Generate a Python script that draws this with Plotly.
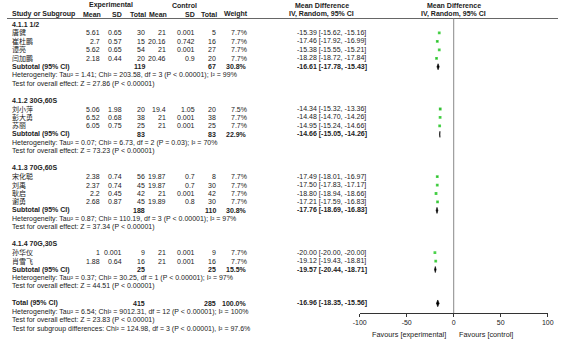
import plotly.graph_objects as go

# ---------------- data ----------------
group_titles = ["4.1.1 1/2", "4.1.2 30G,60S", "4.1.3 70G,60S", "4.1.4 70G,30S"]
study_names = [
    ["唐健", "崔杜鹏", "谭亮", "闫加鹏"],
    ["刘小萍", "彭大勇", "苏丽"],
    ["宋化聪", "刘禹", "耿启", "谢勇"],
    ["孙华仪", "肖雪飞"],
]
exp_mean = [[5.61, 2.7, 5.62, 2.18], [5.06, 6.52, 6.05], [2.38, 2.37, 2.2, 2.68], [1, 1.88]]
exp_sd = [[0.65, 0.57, 0.65, 0.44], [1.98, 0.68, 0.75], [0.74, 0.74, 0.45, 0.87], [0.001, 0.64]]
exp_n = [[30, 15, 54, 20], [20, 38, 25], [56, 45, 42, 45], [9, 16]]
ctl_mean = [[21, 20.16, 21, 20.46], [19.4, 21, 21], [19.87, 19.87, 21, 19.89], [21, 21]]
ctl_sd = [[0.001, 0.742, 0.001, 0.9], [1.05, 0.001, 0.001], [0.7, 0.7, 0.001, 0.8], [0.001, 0.001]]
ctl_n = [[5, 16, 27, 20], [20, 38, 25], [8, 30, 42, 30], [9, 16]]
weights = [[7.7, 7.7, 7.7, 7.7], [7.5, 7.7, 7.7], [7.7, 7.7, 7.7, 7.7], [7.7, 7.7]]
md = [[-15.39, -17.46, -15.38, -18.28], [-14.34, -14.48, -14.95], [-17.49, -17.50, -18.80, -17.21], [-20.00, -19.12]]
md_lo = [[-15.62, -17.92, -15.55, -18.72], [-15.32, -14.70, -15.24], [-18.01, -17.83, -18.94, -17.59], [-20.00, -19.43]]
md_hi = [[-15.16, -16.99, -15.21, -17.84], [-13.36, -14.26, -14.66], [-16.97, -17.17, -18.66, -16.83], [-20.00, -18.81]]

sub_exp_n = [119, 83, 188, 25]
sub_ctl_n = [67, 83, 110, 25]
sub_weight = [30.8, 22.9, 30.8, 15.5]
sub_md = [-16.61, -14.66, -17.76, -19.57]
sub_lo = [-17.78, -15.05, -18.69, -20.44]
sub_hi = [-15.43, -14.26, -16.83, -18.71]
sub_het = [
    "Heterogeneity: Tau² = 1.41; Chi² = 203.58, df = 3 (P < 0.00001); I² = 99%",
    "Heterogeneity: Tau² = 0.07; Chi² = 6.73, df = 2 (P = 0.03); I² = 70%",
    "Heterogeneity: Tau² = 0.87; Chi² = 110.19, df = 3 (P < 0.00001); I² = 97%",
    "Heterogeneity: Tau² = 0.37; Chi² = 30.25, df = 1 (P < 0.00001); I² = 97%",
]
sub_z = [
    "Test for overall effect: Z = 27.86 (P < 0.00001)",
    "Test for overall effect: Z = 73.23 (P < 0.00001)",
    "Test for overall effect: Z = 37.34 (P < 0.00001)",
    "Test for overall effect: Z = 44.51 (P < 0.00001)",
]
total_exp_n = 415
total_ctl_n = 285
total_weight = 100.0
total_md = -16.96
total_lo = -18.35
total_hi = -15.56
total_lines = [
    "Heterogeneity: Tau² = 6.54; Chi² = 9012.31, df = 12 (P < 0.00001); I² = 100%",
    "Test for overall effect: Z = 23.83 (P < 0.00001)",
    "Test for subgroup differences: Chi² = 124.98, df = 3 (P < 0.00001), I² = 97.6%",
]
x_ticks = [-100, -50, 0, 50, 100]
x_tick_labels = ["-100", "-50", "0", "50", "100"]

# ---------------- layout constants ----------------
W, H = 564, 343
ROW0, PITCH = 24.5, 8.45          # pixel y of row 0, row pitch
FONT = "Liberation Sans, Arial, Noto Sans CJK SC, sans-serif"
FS = 7
TXT = "#222222"
GREEN = "#00c000"
PLOT_L, PLOT_R = 361, 553.5
AXIS_Y = 313

def px(x):
    return x / W

def row_of_px(y):
    return (y - ROW0) / PITCH

def py(r):
    """paper y for a table row index"""
    return 1 - (ROW0 + PITCH * r) / H

def py_px(y):
    return 1 - y / H

# column right edges (px)
C_NAME = 3
C_EMEAN, C_ESD, C_EN = 97, 120, 143
C_CMEAN, C_CSD, C_CN = 165, 194, 216
C_W = 248
C_CI = 295

fig = go.Figure()
ann = []

def text(x, yp, s, anchor="left", bold=False, size=FS, xref="paper"):
    ann.append(dict(
        x=px(x) if xref == "paper" else x, y=yp, xref=xref, yref="paper",
        text=f"<b>{s}</b>" if bold else s, showarrow=False,
        xanchor=anchor, yanchor="middle",
        font=dict(family=FONT, size=size, color=TXT)))

def fmtn(v):
    return f"{v:g}"

# headers
hr1, hr2 = py_px(5.5), py_px(14)
text(106, hr1, "Experimental", "center", True)
text(182, hr1, "Control", "center", True)
text(C_CI + 27, hr1, "Mean Difference", "center", True)
text((PLOT_L + PLOT_R) / 2, hr1, "Mean Difference", "center", True)
text(C_NAME, hr2, "Study or Subgroup", "left", True)
text(C_EMEAN + 1, hr2, "Mean", "right", True)
text(C_ESD, hr2, "SD", "right", True)
text(C_EN + 1, hr2, "Total", "right", True)
text(C_CMEAN + 1, hr2, "Mean", "right", True)
text(C_CSD, hr2, "SD", "right", True)
text(C_CN + 1, hr2, "Total", "right", True)
text(C_W + 1, hr2, "Weight", "right", True)
text(C_CI + 27, hr2, "IV, Random, 95% CI", "center", True)
text((PLOT_L + PLOT_R) / 2, hr2, "IV, Random, 95% CI", "center", True)

sq_x, sq_y, sq_lo, sq_hi, sq_w = [], [], [], [], []
r = 0
for g in range(len(group_titles)):
    text(C_NAME, py(r), group_titles[g], "left", True)
    r += 1
    for i, nm in enumerate(study_names[g]):
        y = py(r)
        text(C_NAME, y, nm)
        text(C_EMEAN, y, fmtn(exp_mean[g][i]), "right")
        text(C_ESD, y, fmtn(exp_sd[g][i]), "right")
        text(C_EN, y, str(exp_n[g][i]), "right")
        text(C_CMEAN, y, fmtn(ctl_mean[g][i]), "right")
        text(C_CSD, y, fmtn(ctl_sd[g][i]), "right")
        text(C_CN, y, str(ctl_n[g][i]), "right")
        text(C_W, y, f"{weights[g][i]:.1f}%", "right")
        text(C_CI, y, f"{md[g][i]:.2f} [{md_lo[g][i]:.2f}, {md_hi[g][i]:.2f}]", "left")
        sq_x.append(md[g][i]); sq_y.append(r)
        sq_lo.append(md[g][i] - md_lo[g][i]); sq_hi.append(md_hi[g][i] - md[g][i])
        sq_w.append(weights[g][i])
        r += 1
    # subtotal
    y = py(r)
    text(C_NAME, y, "Subtotal (95% CI)", "left", True)
    text(C_EN, y, str(sub_exp_n[g]), "right", True)
    text(C_CN, y, str(sub_ctl_n[g]), "right", True)
    text(C_W, y, f"{sub_weight[g]:.1f}%", "right", True)
    text(C_CI, y, f"{sub_md[g]:.2f} [{sub_lo[g]:.2f}, {sub_hi[g]:.2f}]", "left", True)
    fig.add_trace(go.Scatter(
        x=[sub_lo[g], sub_md[g], sub_hi[g], sub_md[g], sub_lo[g]],
        y=[r, r - 0.36, r, r + 0.36, r],
        mode="lines", fill="toself", fillcolor="black",
        line=dict(color="black", width=0.6), hoverinfo="skip", showlegend=False))
    r += 1
    text(C_NAME, py(r), sub_het[g]); r += 1
    text(C_NAME, py(r), sub_z[g]); r += 1
    r += 1

# total
y = py(r)
text(C_NAME, y, "Total (95% CI)", "left", True)
text(C_EN, y, str(total_exp_n), "right", True)
text(C_CN, y, str(total_ctl_n), "right", True)
text(C_W, y, f"{total_weight:.1f}%", "right", True)
text(C_CI, y, f"{total_md:.2f} [{total_lo:.2f}, {total_hi:.2f}]", "left", True)
fig.add_trace(go.Scatter(
    x=[total_lo, total_md, total_hi, total_md, total_lo],
    y=[r, r - 0.4, r, r + 0.4, r],
    mode="lines", fill="toself", fillcolor="black",
    line=dict(color="black", width=0.6), hoverinfo="skip", showlegend=False))
r += 1
for line in total_lines:
    text(C_NAME, py(r), line)
    r += 1

# study squares with CI
fig.add_trace(go.Scatter(
    x=sq_x, y=sq_y, mode="markers",
    marker=dict(symbol="square", size=[2.0 + w * 0.1 for w in sq_w], color=GREEN,
                line=dict(width=0)),
    error_x=dict(type="data", symmetric=False, array=sq_hi, arrayminus=sq_lo,
                 color="black", thickness=0.6, width=0),
    hoverinfo="skip", showlegend=False))

# favours labels
fav_y = py_px(334)
text(-6, fav_y, "Favours [experimental]", "right", xref="x", size=7.3)
text(3.5, fav_y, "Favours [control]", "left", xref="x", size=7.3)

axis_pos = (H - AXIS_Y) / H
header_line = (H - 18.5) / H

fig.update_layout(
    width=W, height=H,
    margin=dict(l=0, r=0, t=0, b=0),
    paper_bgcolor="white", plot_bgcolor="rgba(0,0,0,0)",
    annotations=ann,
    xaxis=dict(domain=[px(PLOT_L), px(PLOT_R)], range=[-100, 100],
               anchor="y",
               showline=True, linecolor="#333", linewidth=1,
               ticks="outside", ticklen=3, tickcolor="#333", tickwidth=1,
               tickmode="array", tickvals=x_ticks, ticktext=x_tick_labels,
               ticklabeloverflow="allow",
               tickfont=dict(family=FONT, size=7, color=TXT),
               showgrid=False, zeroline=False, fixedrange=True),
    yaxis=dict(domain=[axis_pos, 1], range=[row_of_px(AXIS_Y), row_of_px(0)],
               visible=False, showgrid=False, zeroline=False, fixedrange=True),
    shapes=[
        dict(type="line", xref="paper", yref="paper", x0=0, x1=1,
             y0=header_line, y1=header_line, line=dict(color="#666", width=1)),
        dict(type="line", xref="x", yref="paper", x0=0, x1=0,
             y0=axis_pos, y1=header_line, line=dict(color="#888", width=1)),
    ],
)

fig.write_html("out.html",
               config={"displayModeBar": False, "staticPlot": True},
               post_script="document.body.style.margin='0px';document.body.style.overflow='hidden';")
